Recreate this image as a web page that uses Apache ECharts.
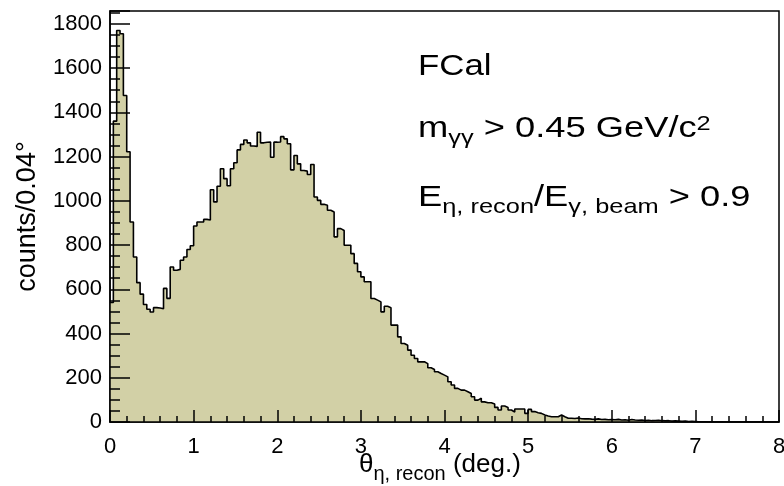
<!DOCTYPE html>
<html>
<head>
<meta charset="utf-8">
<script src="https://cdn.jsdelivr.net/npm/echarts@6/dist/echarts.min.js"></script>
<style>
html,body{margin:0;padding:0;background:#fff;}
#chart{width:784px;height:486px;}
</style>
</head>
<body>
<div id="chart"></div>
<script>
// ---- data ----
const binWidth = 0.04;          // degrees per bin
const xMin = 0, xMax = 8;
const yMax = 1858;
const counts = [
  540, 1360, 1770, 1755, 1476, 1222, 904, 746, 630, 578,
  531, 510, 497, 517, 515, 512, 604, 559, 701, 686,
  690, 731, 746, 780, 797, 886, 904, 904, 916, 913,
  1050, 995, 1066, 1145, 1100, 1068, 1145, 1172, 1230, 1255,
  1275, 1262, 1248, 1246, 1310, 1262, 1265, 1266, 1197, 1265,
  1266, 1290, 1280, 1258, 1140, 1205, 1167, 1137, 1134, 1119,
  1164, 1017, 1002, 984, 980, 957, 949, 837, 874, 866,
  799, 799, 761, 717, 679, 656, 634, 634, 558, 551,
  543, 498, 523, 517, 438, 438, 385, 355, 347, 325,
  302, 287, 272, 272, 264, 245, 237, 227, 219, 212,
  204, 182, 167, 152, 144, 144, 137, 129, 114, 99,
  107, 91, 87, 87, 81, 66, 54, 72, 66, 54,
  45, 59, 59, 59, 39, 57, 47, 42, 39, 32,
  27, 24, 24, 24, 32, 24, 17, 17, 16, 18,
  15, 14, 15, 13, 12, 14, 11, 12, 10, 11,
  10, 12, 9, 10, 8, 11, 9, 8, 9, 7,
  8, 6, 7, 8, 6, 5, 6, 4, 5, 4,
  3, 4, 2, 3, 2, 1, 1, 1, 0, 1,
  0, 0, 1, 0, 0, 0, 0, 0, 0, 0,
  0, 0, 0, 0, 0, 0, 0, 0, 0, 0
];
const xTickInterval = 1;
const yTickInterval = 200;
const textLines = {
  detector: 'FCal',
  massCut: ['m', 'γγ', ' > 0.45 GeV/c', '2'],
  energyCut: ['E', 'η, recon', '/E', 'γ, beam', ' > 0.9']
};
const xTitle = ['θ', 'η, recon', ' (deg.)'];
const yTitle = 'counts/0.04°';

// ---- build series points (bin low edges + closing edge) ----
const histPoints = counts.map((v, i) => [Number((xMin + i * binWidth).toFixed(2)), v]);
histPoints.push([xMax, counts[counts.length - 1]]);

const FF = '"Liberation Sans", Arial, Helvetica, sans-serif';
function richSet(main, sub, subDrop) {
  return {
    a: {fontSize: main, lineHeight: main, verticalAlign: 'top', fontFamily: FF, fontWeight: 'normal', fill: '#000'},
    s: {fontSize: sub, lineHeight: sub, padding: [subDrop, 0, 0, 0], verticalAlign: 'top', fontFamily: FF, fontWeight: 'normal', fill: '#000'},
    p: {fontSize: sub, lineHeight: sub, verticalAlign: 'top', fontFamily: FF, fontWeight: 'normal', fill: '#000'}
  };
}
const rich = richSet(30, 21, 14);
const richX = richSet(26, 20, 12);

const chart = echarts.init(document.getElementById('chart'), null, {renderer: 'canvas'});
chart.setOption({
  animation: false,
  backgroundColor: '#fff',
  grid: {left: 110, right: 5, top: 11, bottom: 64, show: true, borderColor: '#000', borderWidth: 1.5,
         backgroundColor: 'transparent', containLabel: false, outerBoundsMode: 'none'},
  graphic: [
    {type: 'text', x: 418, y: 52, scaleX: 1.16, z: 20,
     style: {text: '{a|' + textLines.detector + '}', rich: rich, fill: '#000'}},
    {type: 'text', x: 418, y: 114, scaleX: 1.21, z: 20,
     style: {text: '{a|' + textLines.massCut[0] + '}{s|' + textLines.massCut[1] + '}{a|' + textLines.massCut[2] + '}{p|' + textLines.massCut[3] + '}', rich: rich, fill: '#000'}},
    {type: 'text', x: 418, y: 183, scaleX: 1.21, z: 20,
     style: {text: '{a|' + textLines.energyCut[0] + '}{s|' + textLines.energyCut[1] + '}{a|' + textLines.energyCut[2] + '}{s|' + textLines.energyCut[3] + '}{a|' + textLines.energyCut[4] + '}', rich: rich, fill: '#000'}},
    {type: 'text', x: 359, y: 452, z: 20,
     style: {text: '{a|' + xTitle[0] + '}{s|' + xTitle[1] + '}{a|' + xTitle[2] + '}', rich: richX, fill: '#000'}}
  ],
  xAxis: {
    type: 'value', min: xMin, max: xMax, interval: xTickInterval, z: 10,
    axisLine: {show: true, onZero: false, lineStyle: {color: '#000', width: 1.5}},
    axisTick: {show: true, inside: true, length: 12, lineStyle: {color: '#000', width: 1.5}},
    minorTick: {show: true, splitNumber: 5, length: 6, lineStyle: {color: '#000', width: 1.5}},
    axisLabel: {color: '#000', fontSize: 22, fontFamily: FF, margin: 14},
    splitLine: {show: false}
  },
  yAxis: {
    type: 'value', min: 0, max: yMax, interval: yTickInterval, z: 10,
    name: yTitle, nameLocation: 'middle', nameGap: 69,
    nameTextStyle: {fontSize: 27, fontFamily: FF, color: '#000'},
    axisLine: {show: true, onZero: false, lineStyle: {color: '#000', width: 1.5}},
    axisTick: {show: true, inside: true, length: 20, lineStyle: {color: '#000', width: 1.5}},
    minorTick: {show: true, splitNumber: 4, length: 10, lineStyle: {color: '#000', width: 1.5}},
    axisLabel: {color: '#000', fontSize: 22, fontFamily: FF, margin: 8, showMaxLabel: false,
                formatter: v => String(v)},
    splitLine: {show: false}
  },
  series: [{
    type: 'line', step: 'end', data: histPoints, symbol: 'none', z: 2,
    lineStyle: {color: '#000', width: 1.6},
    areaStyle: {color: '#d2d0a6', opacity: 1},
    silent: true
  }]
});
</script>
</body>
</html>
